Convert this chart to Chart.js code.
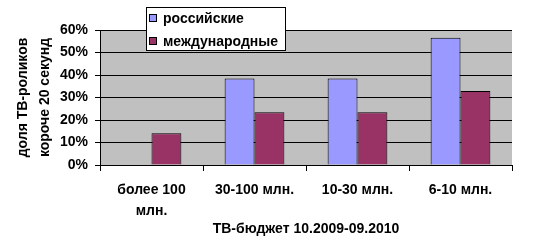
<!DOCTYPE html>
<html>
<head>
<meta charset="utf-8">
<script src="https://cdn.jsdelivr.net/npm/chart.js@4/dist/chart.umd.min.js"></script>
<style>
	body { margin: 0; background: #fff; }
</style>
</head>
<body>
<canvas id="myChart" width="544" height="246"></canvas>
<script>
const categories = [['более 100', 'млн.'], '30-100 млн.', '10-30 млн.', '6-10 млн.']
const russian = [0, 38.5, 38.5, 56.6]
const international = [14.1, 23.4, 23.4, 32.9]
const seriesNames = ['российские', 'международные']
const yTicks = [0, 10, 20, 30, 40, 50, 60]

const font = { family: 'Liberation Sans, Arial, sans-serif', size: 14, weight: 'bold' }

// grey plot area like the old excel charts
const plotBg = {
	id: 'plotBg',
	beforeDraw(chart) {
		const { ctx, chartArea: a } = chart
		ctx.save()
		ctx.fillStyle = '#c0c0c0'
		ctx.fillRect(a.left, a.top, a.right - a.left, a.bottom - a.top)
		ctx.restore()
	}
}

// legend box sits on top of the plot
const boxLegend = {
	id: 'boxLegend',
	afterDraw(chart) {
		const ctx = chart.ctx
		ctx.save()
		ctx.fillStyle = '#fff'
		ctx.fillRect(146, 7, 139, 43)
		ctx.strokeStyle = '#000'
		ctx.lineWidth = 1
		ctx.strokeRect(146.5, 7.5, 139, 43)
		ctx.font = 'bold 14px Liberation Sans, Arial, sans-serif'
		ctx.textBaseline = 'middle'
		chart.data.datasets.forEach((ds, i) => {
			const y = 18 + i * 23
			ctx.fillStyle = ds.backgroundColor
			ctx.fillRect(149, y - 4, 8, 8)
			ctx.strokeRect(149.5, y - 3.5, 7, 7)
			ctx.fillStyle = '#000'
			ctx.fillText(ds.label, 163, y + 1)
		})
		ctx.restore()
	}
}

let cfg = {
	type: 'bar',
	data: {
		labels: categories,
		datasets: [{
			label: seriesNames[0],
			data: russian,
			backgroundColor: '#9999ff',
			borderColor: '#000',
			borderWidth: 1,
			categoryPercentage: 0.58,
			barPercentage: 1
		},
		{
			label: seriesNames[1],
			data: international,
			backgroundColor: '#993366',
			borderColor: '#000',
			borderWidth: 1,
			categoryPercentage: 0.58,
			barPercentage: 1
		}]
	},
	options: {
		responsive: false,
		animation: false,
		layout: { padding: { top: 30, right: 32, left: 0, bottom: 0 } },
		plugins: {
			legend: { display: false },
			tooltip: { enabled: false }
		},
		scales: {
			x: {
				grid: { offset: true, drawOnChartArea: false, color: '#000', tickLength: 6 },
				border: { color: '#000' },
				ticks: { font: { ...font, lineHeight: 1.5 }, color: '#000', padding: 9, maxRotation: 0 },
				title: { display: true, text: 'ТВ-бюджет 10.2009-09.2010', font: font, color: '#000', padding: { top: 6, bottom: 8 } },
				afterFit(scale) { scale.height = 81 }
			},
			y: {
				min: 0,
				max: 60,
				afterBuildTicks(scale) { scale.ticks = yTicks.map(v => ({ value: v })) },
				grid: { color: '#000', tickLength: 5 },
				border: { color: '#000' },
				ticks: { font: font, color: '#000', padding: 7, callback: v => v + '%' },
				title: { display: true, text: ['доля ТВ-роликов', 'короче 20 секунд'], font: { ...font, lineHeight: 1.6 }, color: '#000', padding: { top: 12, bottom: 0 } },
				afterFit(scale) { scale.width = 100 }
			}
		}
	},
	plugins: [plotBg, boxLegend]
}

new Chart('myChart', cfg)
</script>
</body>
</html>
